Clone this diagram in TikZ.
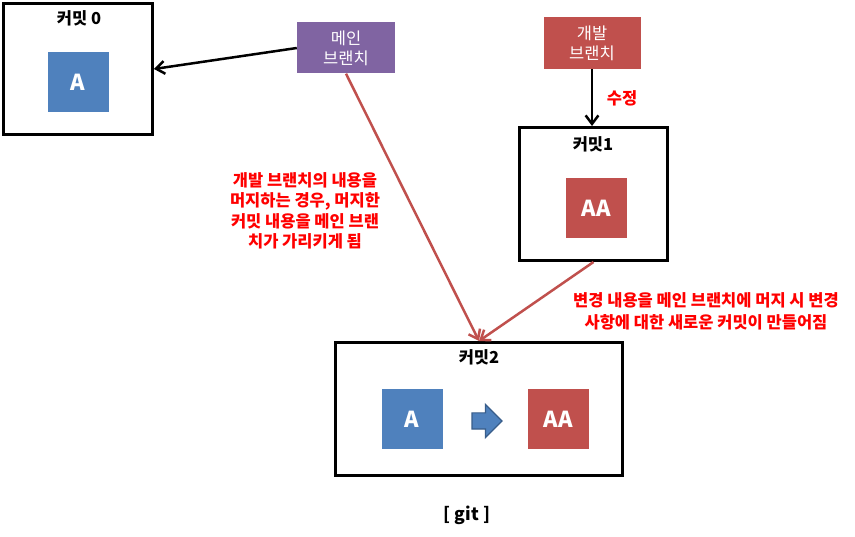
\documentclass[tikz,border=0pt]{standalone}
\usepackage{fontspec}
\setmainfont{Noto Sans CJK KR}
\usetikzlibrary{positioning,arrows.meta,shapes.arrows}
\usepackage{xcolor}
\definecolor{CommitBlue}{RGB}{79,129,189}
\definecolor{CommitRed}{RGB}{192,80,77}
\definecolor{BranchPurple}{RGB}{128,100,162}
\definecolor{ShiftBorder}{RGB}{56,93,138}

\begin{document}
\begin{tikzpicture}[x=1pt,y=-1pt,
commit/.style={rectangle,draw=black,line width=3pt,fill=white,inner sep=0pt},
title/.style={font=\bfseries\fontsize{16.5}{18}\selectfont,text=black},
blob/.style={rectangle,minimum width=61pt,minimum height=60pt,inner sep=0pt,
text=white,font=\bfseries\fontsize{22}{24}\selectfont},
branch/.style={rectangle,minimum width=98pt,minimum height=51pt,align=center,
text=white,font=\fontsize{16.5}{20}\selectfont},
note/.style={align=center,text=red,font=\bfseries\fontsize{16.5}{20.5}\selectfont},
arrow/.style={-{Straight Barb[length=3mm,width=4.5mm]},line width=2.5pt,draw=black},
merge/.style={-{Straight Barb[length=3mm,width=4.5mm]},line width=2.5pt,draw=CommitRed}
]
\useasboundingbox (0,0) rectangle (855,537);

% commits
\node[commit,minimum width=149pt,minimum height=131pt] (c0) at (78,69) {};
\node[commit,minimum width=148pt,minimum height=133pt] (c1) at (593.5,194) {};
\node[commit,minimum width=287pt,minimum height=133pt] (c2) at (479,409) {};
\node[title] (t0) at (79,18) {커밋 0};
\node[title] (t1) at (593,144) {커밋1};
\node[title] (t2) at (479,357) {커밋2};

% contents
\node[blob,fill=CommitBlue] (a0) at (78,82) {A};
\node[blob,fill=CommitRed] (a1) at (596,208) {AA};
\node[blob,fill=CommitBlue] (a2) at (412,419) {A};
\node[blob,fill=CommitRed] (a3) at (558,419) {AA};
\node[single arrow,draw=ShiftBorder,fill=CommitBlue,line width=1.2pt,inner xsep=0pt,inner ysep=7.5pt,
minimum height=30pt,single arrow head extend=8.5pt] (shift) at (483,421) {};

% branches
\node[branch,fill=BranchPurple] (main) at (346,48) {메인\\브랜치};
\node[branch,fill=CommitRed,minimum height=52pt,minimum width=97pt] (dev) at (592,43) {개발\\브랜치};

\draw[arrow] (main.west) -- (c0.east);
\draw[arrow] (dev.south) -- (dev.south |- c1.north);
\node[note] (edit) at (622,98) {수정};

\draw[merge] (main.south) -- (c2.north);
\draw[merge] (c1.south) -- (c2.north);

\node[note] (n1) at (305,211) {개발 브랜치의 내용을\\머지하는 경우, 머지한\\커밋 내용을 메인 브랜\\치가 가리키게 됨};
\node[note,font=\bfseries\fontsize{16.5}{22}\selectfont] (n2) at (706,311) {변경 내용을 메인 브랜치에 머지 시 변경\\사항에 대한 새로운 커밋이 만들어짐};

\node[font=\bfseries\fontsize{17.5}{19}\selectfont] (git) at (467,515) {[ git ]};
\end{tikzpicture}
\end{document}
